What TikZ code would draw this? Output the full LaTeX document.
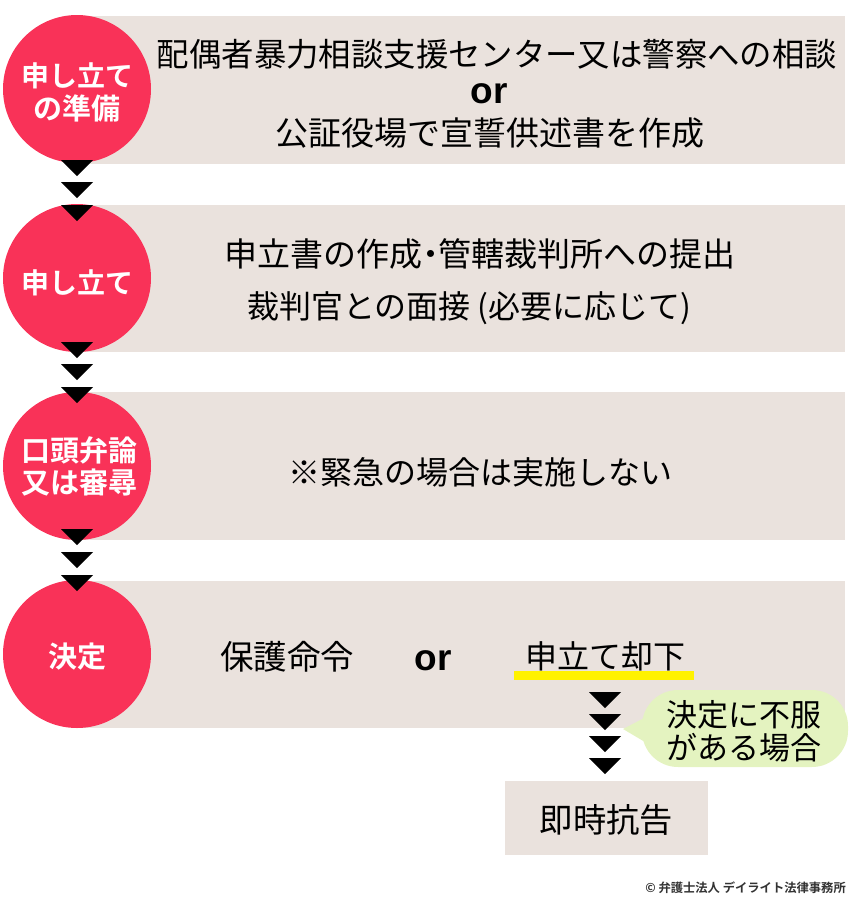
\documentclass[tikz,border=0pt]{standalone}
\usepackage{fontspec}
\setmainfont{Noto Sans CJK JP}
\newfontfamily\jpbold{Noto Sans CJK JP Bold}
\newfontfamily\latinbold{Liberation Sans Bold}
\definecolor{boxbg}{HTML}{EAE2DD}
\definecolor{circ}{HTML}{F93258}
\definecolor{calloutbg}{HTML}{E4F3C0}
\definecolor{markerbar}{HTML}{FFF200}
\newcommand{\fsz}[1]{\fontsize{#1}{#1}\selectfont}
\tikzset{
  x=1pt,y=-1pt,
  band/.style={fill=boxbg,draw=none,inner sep=0pt,anchor=north west},
  stagecirc/.style={circle,fill=circ,draw=none,minimum size=148pt,inner sep=0pt},
  stagelabel/.style={text=white,align=center,inner sep=0pt,font=\jpbold\fsz{29}},
  body/.style={text=black,inner sep=0pt,align=center,font=\fsz{33}},
  orword/.style={text=black,inner sep=0pt,font=\latinbold\fsz{37}},
  chev/.pic={\fill[black] (-16,0) -- (16,0) -- (0,16) -- cycle;}
}
\begin{document}
\begin{tikzpicture}
\useasboundingbox (0,0) rectangle (850,900);
% bands
\node[band,minimum width=768pt,minimum height=148pt] (b1) at (77,16) {};
\node[band,minimum width=768pt,minimum height=147pt] (b2) at (77,205) {};
\node[band,minimum width=768pt,minimum height=148pt] (b3) at (77,392) {};
\node[band,minimum width=768pt,minimum height=147pt] (b4) at (77,581) {};
% circles
\node[stagecirc] (c1) at (77,89) {};
\node[stagecirc] (c2) at (77,278) {};
\node[stagecirc] (c3) at (77,466) {};
\node[stagecirc] (c4) at (77,654) {};
% chevrons
\foreach \y in {160,182,205,342,364,387,529,552,575} \pic at (77,\y) {chev};
% circle labels
\node[stagelabel] (l1) at ([yshift=-3pt]c1.center) {{\fsz{28}申し立て}\\[4pt]の準備};
\node[stagelabel,font=\jpbold\fsz{28}] (l2) at ([yshift=-5pt]c2.center) {申し立て};
\node[stagelabel] (l3) at ([xshift=2.5pt]c3.center) {口頭弁論\\[3pt]又は審尋};
\node[stagelabel] (l4) at ([yshift=-3pt]c4.center) {決定};
% texts
\node[body,font=\fsz{32.4}] (t1) at (497,54) {配偶者暴力相談支援センター又は警察への相談};
\node[orword] (or1) at (489,94) {or};
\node[body] (t2) at (490,133) {公証役場で宣誓供述書を作成};
\node[body] (t3) at (480,254) {申立書の作成\kern-.25em・\kern-.25em 管轄裁判所への提出};
\node[body,font=\fsz{32}] (t4) at (469,308) {裁判官との面接\kern.2em(必要に応じて)};
\node[body,font=\fsz{32}] (t5) at (480,472) {※緊急の場合は実施しない};
\node[body,font=\fsz{33.5}] (t6) at (287,657) {保護命令};
\node[orword] (or2) at (433,661) {or};
\fill[markerbar] (514,671) rectangle (694,680);
\node[body,font=\fsz{32}] (t7) at (605,656) {申立て却下};
% lower chevrons
\foreach \y in {692,714,736,758} \pic at (605,\y) {chev};
% callout
\coordinate (tailtip) at (623,729);
\fill[calloutbg] (tailtip) -- (650,715) -- (650,745) -- cycle;
\node[fill=calloutbg,rounded corners=36pt,minimum width=206pt,minimum height=77pt,inner sep=0pt] (cl) at (745,728.5) {};
\node[body,font=\fsz{31}] (clt) at (744,731) {決定に不服\\[2pt]がある場合};
% appeal
\node[fill=boxbg,minimum width=203pt,minimum height=74pt,inner sep=0pt] (ap) at (606.5,818) {};
\node[body,font=\fsz{33.3}] (apt) at (606.5,820) {即時抗告};
% copyright
\node[anchor=east,inner sep=0pt,font=\jpbold\fsz{12.3},text=black!80] (cr) at (846,888) {© 弁護士法人 デイライト法律事務所};
\end{tikzpicture}
\end{document}
